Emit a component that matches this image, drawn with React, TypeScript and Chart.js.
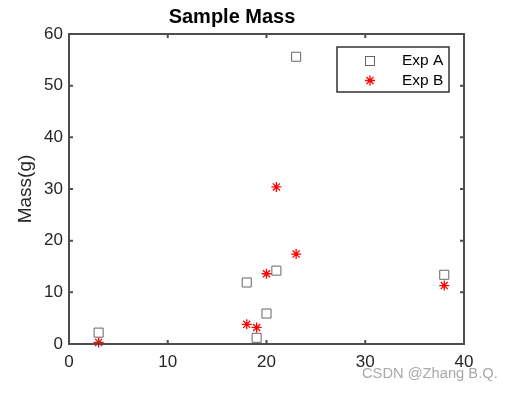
import React, { useEffect, useRef } from "react";
import { Chart, registerables } from "chart.js";

Chart.register(...registerables);

const expAX = [3, 18, 19, 20, 21, 23, 38];
const expAY = [2.2, 11.9, 1.2, 5.9, 14.2, 55.6, 13.4];
const expBX = [3, 18, 19, 20, 21, 23, 38];
const expBY = [0.3, 3.8, 3.2, 13.6, 30.4, 17.4, 11.3];
const xTicks = [0, 10, 20, 30, 40];
const yTicks = [0, 10, 20, 30, 40, 50, 60];
const seriesNames = ["Exp A", "Exp B"];

const FONT = "'Liberation Sans', Arial, sans-serif";
const AXIS_COLOR = "#4d4d4d";
const TEXT_COLOR = "#262626";
const SQUARE_COLOR = "#666666";
const STAR_COLOR = "#ff0000";

function drawStar(ctx: CanvasRenderingContext2D, x: number, y: number, r: number) {
  ctx.beginPath();
  ctx.moveTo(x - r, y);
  ctx.lineTo(x + r, y);
  ctx.moveTo(x, y - r);
  ctx.lineTo(x, y + r);
  const d = r * Math.SQRT1_2;
  ctx.moveTo(x - d, y - d);
  ctx.lineTo(x + d, y + d);
  ctx.moveTo(x - d, y + d);
  ctx.lineTo(x + d, y - d);
  ctx.stroke();
}

const framePlugin = {
  id: "frame",
  afterDraw(chart: any) {
    const { ctx, chartArea } = chart;
    const xs = chart.scales.x;
    const ys = chart.scales.y;
    const { left, right, top, bottom } = chartArea;
    ctx.save();
    ctx.strokeStyle = AXIS_COLOR;
    ctx.lineWidth = 2;
    ctx.strokeRect(left, top, right - left, bottom - top);
    const tl = 4;
    ctx.beginPath();
    xTicks.forEach((v) => {
      const px = xs.getPixelForValue(v);
      ctx.moveTo(px, bottom);
      ctx.lineTo(px, bottom - tl);
      ctx.moveTo(px, top);
      ctx.lineTo(px, top + tl);
    });
    yTicks.forEach((v) => {
      const py = ys.getPixelForValue(v);
      ctx.moveTo(left, py);
      ctx.lineTo(left + tl, py);
      ctx.moveTo(right, py);
      ctx.lineTo(right - tl, py);
    });
    ctx.stroke();

    // legend
    const lx = 337, ly = 47, lw = 112, lh = 45;
    ctx.fillStyle = "#ffffff";
    ctx.fillRect(lx, ly, lw, lh);
    ctx.strokeStyle = "#333333";
    ctx.lineWidth = 1.5;
    ctx.strokeRect(lx, ly, lw, lh);
    const mx = 370;
    const rowY = [61, 80.5];
    ctx.strokeStyle = SQUARE_COLOR;
    ctx.lineWidth = 1;
    ctx.strokeRect(mx - 4.5, rowY[0] - 4.5, 9, 9);
    ctx.strokeStyle = STAR_COLOR;
    ctx.lineWidth = 1.3;
    drawStar(ctx, mx, rowY[1], 5);
    ctx.fillStyle = "#000000";
    ctx.font = `15.5px ${FONT}`;
    ctx.textBaseline = "middle";
    ctx.textAlign = "left";
    ctx.fillText(seriesNames[0], 402, rowY[0]);
    ctx.fillText(seriesNames[1], 402, rowY[1]);

    // watermark
    ctx.fillStyle = "#a8a8a8";
    ctx.font = `14.7px ${FONT}`;
    ctx.textBaseline = "middle";
    ctx.fillText("CSDN @Zhang B.Q.", 362, 374);
    ctx.restore();
  },
};

const starPlugin = {
  id: "starMarks",
  afterDatasetsDraw(chart: any) {
    const { ctx } = chart;
    const meta = chart.getDatasetMeta(1);
    ctx.save();
    ctx.strokeStyle = STAR_COLOR;
    ctx.lineWidth = 1.3;
    meta.data.forEach((p: any) => drawStar(ctx, p.x, p.y, 5));
    ctx.restore();
  },
};

export default function App() {
  const ref = useRef<HTMLCanvasElement>(null);
  useEffect(() => {
    if (!ref.current) return;
    const chart = new Chart(ref.current, {
      type: "scatter",
      data: {
        datasets: [
          {
            label: seriesNames[0],
            data: expAX.map((x, i) => ({ x, y: expAY[i] })),
            pointStyle: "rect",
            pointRadius: 6.4,
            borderColor: SQUARE_COLOR,
            backgroundColor: "rgba(0,0,0,0)",
            borderWidth: 1,
          },
          {
            label: seriesNames[1],
            data: expBX.map((x, i) => ({ x, y: expBY[i] })),
            pointStyle: "star",
            pointRadius: 0,
            borderColor: STAR_COLOR,
            backgroundColor: STAR_COLOR,
            borderWidth: 1,
          },
        ],
      },
      options: {
        responsive: false,
        animation: false,
        events: [],
        layout: { padding: { left: 0, right: 53, top: 0, bottom: 0 } },
        plugins: {
          legend: { display: false },
          tooltip: { enabled: false },
          title: {
            display: true,
            text: "Sample Mass",
            color: "#000000",
            font: { family: FONT, size: 20, weight: "bold" },
            padding: { top: 5.5, bottom: 4.5 },
          },
        },
        scales: {
          x: {
            type: "linear",
            min: 0,
            max: 40,
            afterBuildTicks: (s: any) => {
              s.ticks = xTicks.map((v) => ({ value: v }));
            },
            afterFit: (s: any) => {
              s.height = 49;
            },
            grid: { display: false, drawTicks: false },
            border: { display: false },
            ticks: {
              color: TEXT_COLOR,
              font: { family: FONT, size: 17 },
              padding: 8,
              maxRotation: 0,
            },
          },
          y: {
            type: "linear",
            min: 0,
            max: 60,
            afterBuildTicks: (s: any) => {
              s.ticks = yTicks.map((v) => ({ value: v }));
            },
            afterFit: (s: any) => {
              s.width = 69;
            },
            grid: { display: false, drawTicks: false },
            border: { display: false },
            title: {
              display: true,
              text: "Mass(g)",
              color: TEXT_COLOR,
              font: { family: FONT, size: 19 },
              padding: { top: 14, bottom: 0 },
            },
            ticks: {
              color: TEXT_COLOR,
              font: { family: FONT, size: 17 },
              padding: 6,
            },
          },
        },
      },
      plugins: [starPlugin, framePlugin],
    });
    return () => chart.destroy();
  }, []);
  return (
    <div style={{ position: "absolute", left: 0, top: 0, width: 517, height: 393, background: "#fff" }}>
      <canvas ref={ref} width={517} height={393} style={{ display: "block" }} />
    </div>
  );
}
